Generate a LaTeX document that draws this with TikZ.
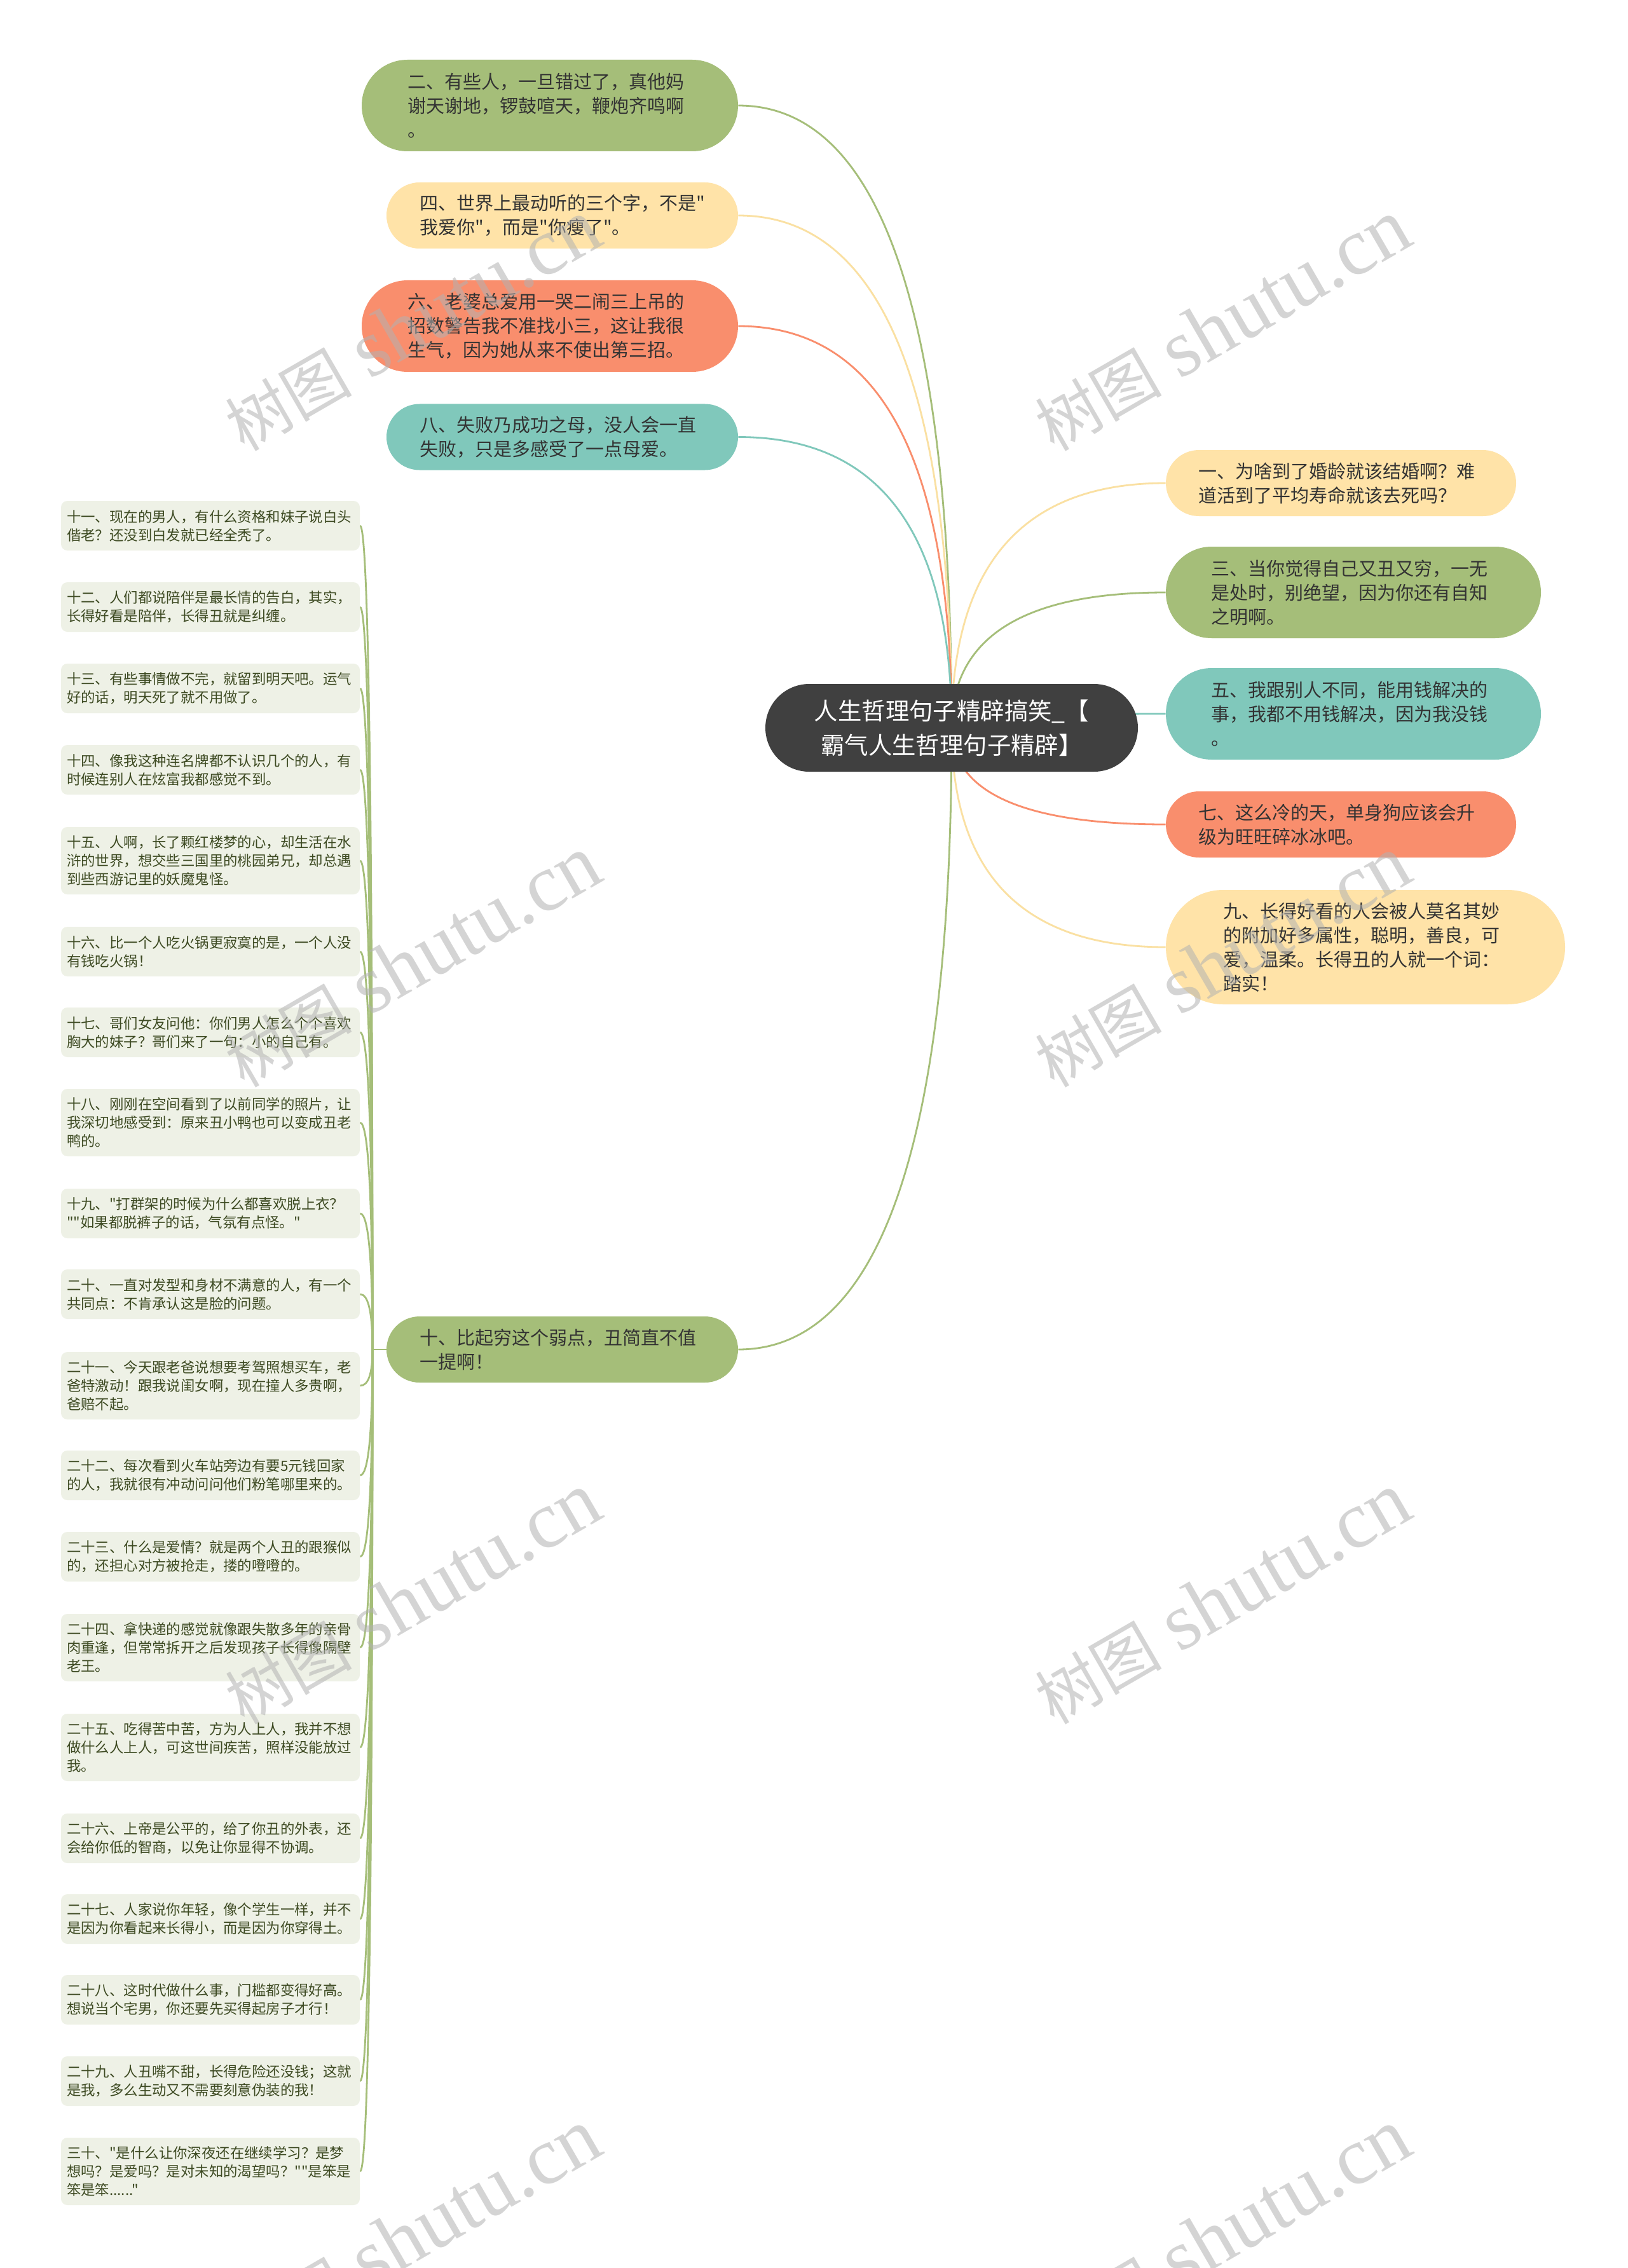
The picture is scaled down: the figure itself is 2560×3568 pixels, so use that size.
\documentclass[tikz,border=0pt]{standalone}
\usepackage{fontspec}
\setmainfont{Noto Sans CJK SC}
\newfontfamily\cjk{Noto Sans CJK SC}
\newfontfamily\wmserif{Liberation Serif}
\usetikzlibrary{calc}
\pgfdeclarelayer{background}
\pgfsetlayers{background,main}
\definecolor{cgreen}{HTML}{A5BE79}
\definecolor{cyellow}{HTML}{FFE3A8}
\definecolor{cyline}{HTML}{FAE0A2}
\definecolor{csalmon}{HTML}{F98E6D}
\definecolor{cteal}{HTML}{80C8BB}
\definecolor{cdark}{HTML}{404040}
\definecolor{leaffill}{HTML}{EEF1E6}
\definecolor{leaftext}{HTML}{3D4A22}
\definecolor{txtdark}{HTML}{333333}
\begin{document}
\begin{tikzpicture}[x=0.5pt,y=-0.5pt,
  mnode/.style={rectangle, fill=#1, text=txtdark, align=left, text width=224pt, inner sep=0pt, font=\cjk\fontsize{14.5pt}{19pt}\selectfont},
  pillr/.style={rounded corners=#1, minimum height={2*#1}},
  lnode/.style={rectangle, fill=leaffill, rounded corners=5pt, text=leaftext, align=left, text width=226pt, minimum width=235pt, minimum height=#1, inner sep=0pt, font=\cjk\fontsize{11.2pt}{14.5pt}\selectfont},
  cnode/.style={rectangle, fill=cdark, text=white, rounded corners=34.5pt, minimum width=293pt, minimum height=69pt, align=center, inner sep=0pt, font=\cjk\fontsize{18.7pt}{27pt}\selectfont},
  conn/.style={draw=#1, line width=1.4pt},
  qcurve/.style={to path={.. controls ($(\tikztostart)!0.6667!(\tikztostart|-\tikztotarget)$) and ($(\tikztotarget)!0.6667!(\tikztostart|-\tikztotarget)$) .. (\tikztotarget)}},
  wm/.style={text=gray!60, opacity=0.55, inner sep=0pt, rotate=30}
]
\useasboundingbox (0,0) rectangle (2560,3568);

% central node
\node[cnode] (c) at (1497,1145) {人生哲理句子精辟搞笑\_【\\霸气人生哲理句子精辟】};
\coordinate (cc) at (c.center);

% left main branches
\node[mnode=cgreen, pillr=36pt, minimum width=296pt] (n2) at (865,166) {二、有些人，一旦错过了，真他妈\\谢天谢地，锣鼓喧天，鞭炮齐鸣啊\\。};
\node[mnode=cyellow, pillr=26pt, minimum width=276.5pt] (n4) at (884.5,339) {四、世界上最动听的三个字，不是"\\我爱你"，而是"你瘦了"。};
\node[mnode=csalmon, pillr=36pt, minimum width=296pt] (n6) at (865,513) {六、老婆总爱用一哭二闹三上吊的\\招数警告我不准找小三，这让我很\\生气，因为她从来不使出第三招。};
\node[mnode=cteal, pillr=26pt, minimum width=276.5pt] (n8) at (884.5,687.5) {八、失败乃成功之母，没人会一直\\失败，只是多感受了一点母爱。};
\node[mnode=cgreen, pillr=26pt, minimum width=276.5pt] (n10) at (884.5,2123) {十、比起穷这个弱点，丑简直不值\\一提啊！};

% right main branches
\node[mnode=cyellow, pillr=26pt, minimum width=275.5pt] (n1) at (2109.5,760) {一、为啥到了婚龄就该结婚啊？难\\道活到了平均寿命就该去死吗？};
\node[mnode=cgreen, pillr=36pt, minimum width=295pt] (n3) at (2129,932) {三、当你觉得自己又丑又穷，一无\\是处时，别绝望，因为你还有自知\\之明啊。};
\node[mnode=cteal, pillr=36pt, minimum width=295pt] (n5) at (2129,1123) {五、我跟别人不同，能用钱解决的\\事，我都不用钱解决，因为我没钱\\。};
\node[mnode=csalmon, pillr=26pt, minimum width=275.5pt] (n7) at (2109.5,1297) {七、这么冷的天，单身狗应该会升\\级为旺旺碎冰冰吧。};
\node[mnode=cyellow, pillr=45pt, minimum width=314pt] (n9) at (2148,1490) {九、长得好看的人会被人莫名其妙\\的附加好多属性，聪明，善良，可\\爱，温柔。长得丑的人就一个词：\\踏实！};

% leaves
\coordinate (hub) at (586,2123);
\node[lnode=39pt] (l11) at (331,827) {十一、现在的男人，有什么资格和妹子说白头\\偕老？还没到白发就已经全秃了。};
\node[lnode=39pt] (l12) at (331,955) {十二、人们都说陪伴是最长情的告白，其实，\\长得好看是陪伴，长得丑就是纠缠。};
\node[lnode=39pt] (l13) at (331,1083) {十三、有些事情做不完，就留到明天吧。运气\\好的话，明天死了就不用做了。};
\node[lnode=39pt] (l14) at (331,1211) {十四、像我这种连名牌都不认识几个的人，有\\时候连别人在炫富我都感觉不到。};
\node[lnode=53pt] (l15) at (331,1354) {十五、人啊，长了颗红楼梦的心，却生活在水\\浒的世界，想交些三国里的桃园弟兄，却总遇\\到些西游记里的妖魔鬼怪。};
\node[lnode=39pt] (l16) at (331,1497) {十六、比一个人吃火锅更寂寞的是，一个人没\\有钱吃火锅！};
\node[lnode=39pt] (l17) at (331,1624) {十七、哥们女友问他：你们男人怎么个个喜欢\\胸大的妹子？哥们来了一句：小的自己有。};
\node[lnode=53pt] (l18) at (331,1766) {十八、刚刚在空间看到了以前同学的照片，让\\我深切地感受到：原来丑小鸭也可以变成丑老\\鸭的。};
\node[lnode=39pt] (l19) at (331,1909) {十九、"打群架的时候为什么都喜欢脱上衣？\\""如果都脱裤子的话，气氛有点怪。"};
\node[lnode=39pt] (l20) at (331,2036) {二十、一直对发型和身材不满意的人，有一个\\共同点：不肯承认这是脸的问题。};
\node[lnode=53pt] (l21) at (331,2180) {二十一、今天跟老爸说想要考驾照想买车，老\\爸特激动！跟我说闺女啊，现在撞人多贵啊，\\爸赔不起。};
\node[lnode=39pt] (l22) at (331,2321) {二十二、每次看到火车站旁边有要5元钱回家\\的人，我就很有冲动问问他们粉笔哪里来的。};
\node[lnode=39pt] (l23) at (331,2449) {二十三、什么是爱情？就是两个人丑的跟猴似\\的，还担心对方被抢走，搂的噔噔的。};
\node[lnode=53pt] (l24) at (331,2592) {二十四、拿快递的感觉就像跟失散多年的亲骨\\肉重逢，但常常拆开之后发现孩子长得像隔壁\\老王。};
\node[lnode=53pt] (l25) at (331,2749) {二十五、吃得苦中苦，方为人上人，我并不想\\做什么人上人，可这世间疾苦，照样没能放过\\我。};
\node[lnode=39pt] (l26) at (331,2892) {二十六、上帝是公平的，给了你丑的外表，还\\会给你低的智商，以免让你显得不协调。};
\node[lnode=39pt] (l27) at (331,3019) {二十七、人家说你年轻，像个学生一样，并不\\是因为你看起来长得小，而是因为你穿得土。};
\node[lnode=39pt] (l28) at (331,3146) {二十八、这时代做什么事，门槛都变得好高。\\想说当个宅男，你还要先买得起房子才行！};
\node[lnode=39pt] (l29) at (331,3274) {二十九、人丑嘴不甜，长得危险还没钱；这就\\是我，多么生动又不需要刻意伪装的我！};
\node[lnode=53pt] (l30) at (331,3416) {三十、"是什么让你深夜还在继续学习？是梦\\想吗？是爱吗？是对未知的渴望吗？""是笨是\\笨是笨......"};

% connectors
\begin{pgfonlayer}{background}
\fill[white] (0,0) rectangle (2560,3568);
\draw[conn=cgreen] (cc) to[qcurve] (n2.east);
\draw[conn=cyline] (cc) to[qcurve] (n4.east);
\draw[conn=csalmon] (cc) to[qcurve] (n6.east);
\draw[conn=cteal] (cc) to[qcurve] (n8.east);
\draw[conn=cgreen] (cc) to[qcurve] (n10.east);
\draw[conn=cyline] (cc) to[qcurve] (n1.west);
\draw[conn=cgreen] (cc) to[qcurve] (n3.west);
\draw[conn=cteal] (cc) to[qcurve] (n5.west);
\draw[conn=csalmon] (cc) to[qcurve] (n7.west);
\draw[conn=cyline] (cc) to[qcurve] (n9.west);
\draw[conn=cgreen] (n10.west) -- (hub);
\foreach \l in {l11,l12,l13,l14,l15,l16,l17,l18,l19,l20,l21,l22,l23,l24,l25,l26,l27,l28,l29,l30}{
  \draw[conn=cgreen] (hub) to[qcurve] (\l.east);
}
\end{pgfonlayer}

% watermarks
\foreach \wx/\wy [count=\i] in {649/512,1923/512,649/1513,1923/1513,649/2515,1923/2515,649/3516,1923/3516}{
  \node[wm] (w\i) at (\wx,\wy) {\cjk\fontsize{50pt}{50pt}\selectfont 树图\hspace{14pt}{\wmserif\fontsize{64pt}{64pt}\selectfont shutu.cn}};
}
\end{tikzpicture}
\end{document}
